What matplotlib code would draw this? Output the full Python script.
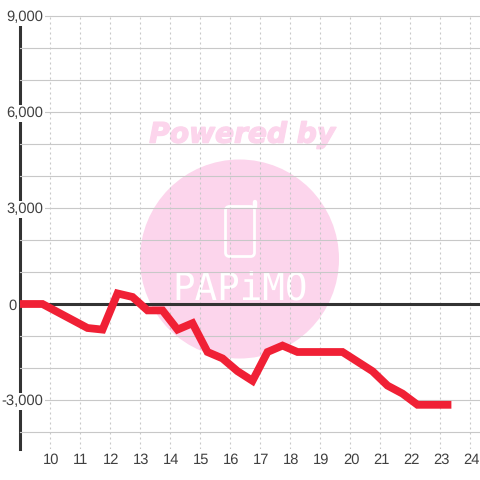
#!/bin/python3

import matplotlib
matplotlib.use('Agg')
import matplotlib.pyplot as plt
import matplotlib.patheffects as pe
from matplotlib.patches import Circle, FancyBboxPatch
from matplotlib.transforms import ScaledTranslation

hours = [9.0, 9.25, 9.75, 10.25, 10.75, 11.25, 11.75, 12.25, 12.75, 13.25, 13.75, 14.25, 14.75,
         15.25, 15.75, 16.25, 16.75, 17.25, 17.75, 18.25, 18.75, 19.25, 19.75, 20.25, 20.75,
         21.25, 21.75, 22.25, 22.75, 23.25]
values = [0, 0, 0, -250, -500, -750, -800, 330, 220, -200, -200, -800, -600,
          -1500, -1700, -2100, -2400, -1500, -1300, -1500, -1500, -1500, -1500, -1800, -2100,
          -2550, -2800, -3150, -3150, -3150]

x_ticks = list(range(10, 25))
y_ticks = list(range(-4000, 10000, 1000))
y_labels = [f'{v:,}' if v % 3000 == 0 else '' for v in y_ticks]

plt.rcParams['font.family'] = ['Liberation Sans', 'DejaVu Sans']
plt.rcParams['text.hinting'] = 'none'

fig = plt.figure(figsize=(4.8, 4.8), dpi=100)

# watermark layer, in figure pixels, sits under the chart
bg = fig.add_axes([0, 0, 1, 1], zorder=0)
bg.set_xlim(0, 480)
bg.set_ylim(480, 0)
bg.axis('off')
pink = '#fcd5ec'
bg.add_patch(Circle((239.5, 259), 99.5, fc=pink, ec='none'))
bg.text(242, 135, 'Powered by', color=pink, fontsize=20.2, family='DejaVu Sans', weight='bold',
        style='italic', ha='center', va='center',
        path_effects=[pe.withStroke(linewidth=1, foreground=pink)])
bg.add_patch(FancyBboxPatch((225.5, 206.5), 29, 50, boxstyle='round,pad=0,rounding_size=4', fc='none',
                            ec='white', lw=2))
bg.plot([254.5, 254.5], [207, 201.5], color='white', lw=3.2, solid_capstyle='round')
bg.text(240, 290, 'PAPiMO', color='white', fontsize=27, family='DejaVu Sans Mono',
        ha='center', va='center')

ax = fig.add_axes([20 / 480, 1 - 449 / 480, 460 / 480, 433 / 480], zorder=1)
ax.patch.set_alpha(0)
ax.set_xlim(9, 9 + 460 / 30)
ax.set_ylim(-145 * 1000 / 32, 9000)

for s in ax.spines.values():
    s.set_visible(False)

ax.set_xticks(x_ticks)
ax.set_yticks(y_ticks)
ax.set_yticklabels(y_labels)
ax.tick_params(axis='both', which='both', length=0)
ax.tick_params(axis='x', labelsize=10.6, labelcolor='#404040', pad=3)
ax.tick_params(axis='y', labelsize=10.6, labelcolor='#404040', pad=-17)

px = fig.dpi_scale_trans
for lab in ax.get_xticklabels():
    lab.set_transform(lab.get_transform() + ScaledTranslation(1 / 100, 0, px))
for v, lab in zip(y_ticks, ax.get_yticklabels()):
    if v % 3000 == 0:
        lab.set_bbox(dict(fc='white', ec='none', pad=1))
    if v == 0:
        # the zero label sits left of the axis line
        lab.set_transform(lab.get_transform() + ScaledTranslation(-27 / 100, 0, px))

ax.grid(axis='y', color='#c8c8c8', lw=0.8, clip_on=False)
ax.grid(axis='x', color='#c8c8c8', lw=0.8, ls=(0, (1.8, 2.7)))
ax.set_axisbelow(True)

# axis line goes under the tick labels, their white box cuts it
ax.axvline(9, color='#333333', lw=2.2, zorder=0.3, clip_on=False)
ax.axhline(0, color='#333333', lw=2.2, zorder=3)
ax.plot(hours, values, color='#f02035', lw=5.6, solid_joinstyle='miter', solid_capstyle='projecting', zorder=4)

fig.savefig('out.png', dpi=100)
